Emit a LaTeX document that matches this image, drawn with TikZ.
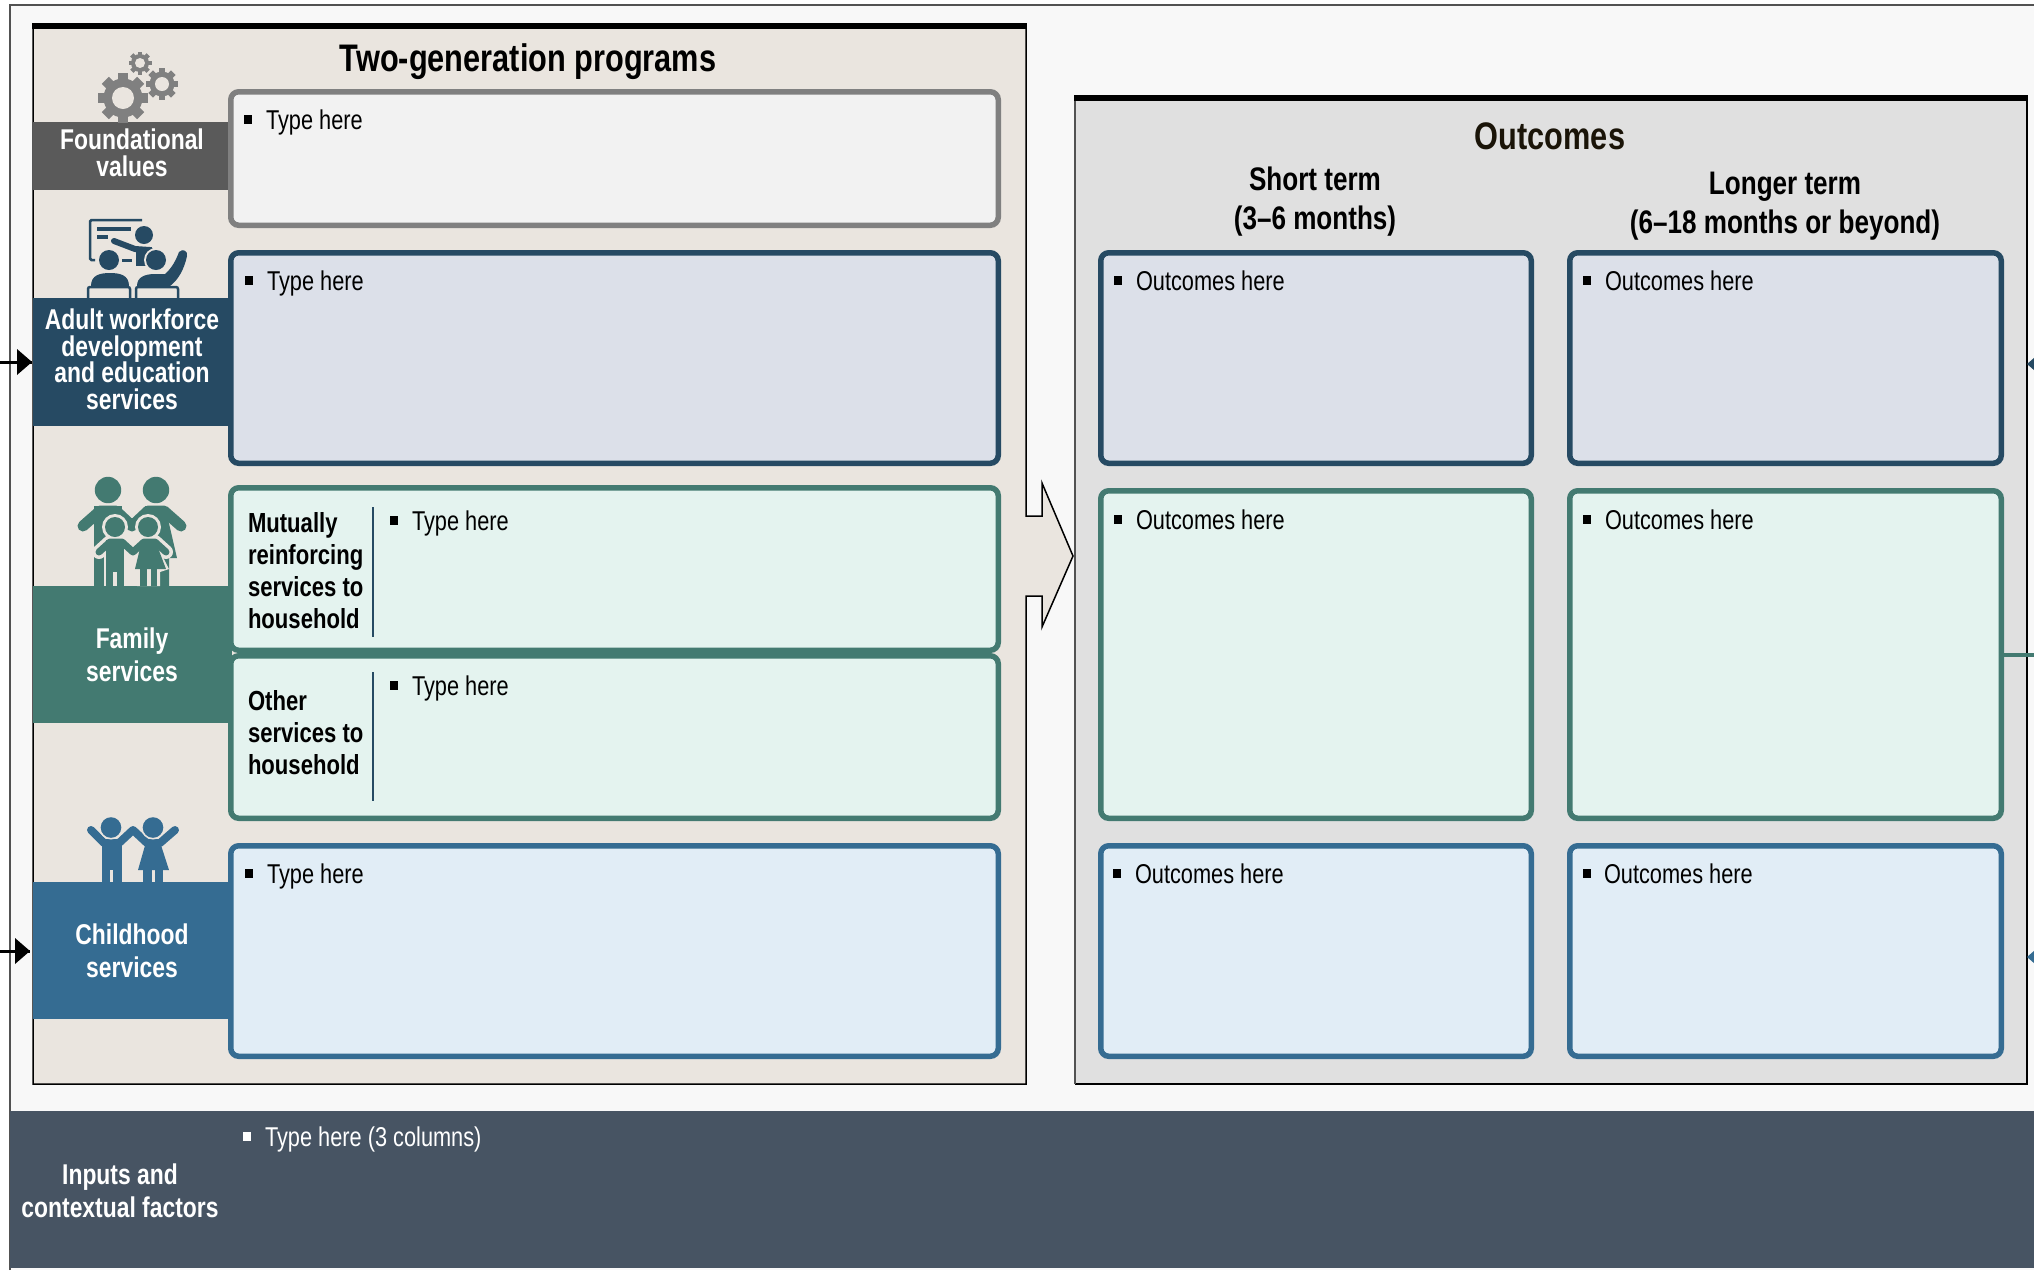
\documentclass[tikz,border=0pt]{standalone}
\usepackage{fontspec}
\setmainfont[FakeStretch=0.80,BoldFont={Liberation Sans Bold}]{Liberation Sans}
\definecolor{pagebg}{HTML}{F8F8F8}
\definecolor{panelL}{HTML}{EAE5DF}
\definecolor{panelR}{HTML}{E0E0E0}
\definecolor{cGray}{HTML}{808080}
\definecolor{cGrayD}{HTML}{5A5A5A}
\definecolor{cNavy}{HTML}{264A63}
\definecolor{cTeal}{HTML}{437A71}
\definecolor{cBlue}{HTML}{356C92}
\definecolor{fGray}{HTML}{F2F2F2}
\definecolor{fNavy}{HTML}{DCE0E9}
\definecolor{fTeal}{HTML}{E4F3EF}
\definecolor{fBlue}{HTML}{E1EDF6}
\definecolor{cBar}{HTML}{475463}
\definecolor{cOut}{HTML}{1A1408}
\newcommand{\fsR}{\fontsize{27.2}{32}\selectfont}
\newcommand{\fsB}{\fontsize{28.6}{32}\selectfont\bfseries}
% box: name, x0,y0,x1,y1, border, fill
\newcommand{\rbox}[7]{%
  \pgfmathsetmacro{\cxx}{(#2+#4)/2}\pgfmathsetmacro{\cyy}{(#3+#5)/2}%
  \pgfmathsetmacro{\ww}{#4-#2-5.5}\pgfmathsetmacro{\hh}{#5-#3-5.5}%
  \node[cardbox,draw=#6,fill=#7,minimum width=\ww pt,minimum height=\hh pt] (#1) at (\cxx,\cyy) {};}
\newcommand{\band}[6]{%
  \pgfmathsetmacro{\cxx}{(#2+#4)/2}\pgfmathsetmacro{\cyy}{(#3+#5)/2}%
  \pgfmathsetmacro{\ww}{#4-#2}\pgfmathsetmacro{\hh}{#5-#3}%
  \node[bandbox,fill=#6,minimum width=\ww pt,minimum height=\hh pt] (#1) at (\cxx,\cyy) {};}
% bullet item: name, bullet x, text x, baseline y, colour, text
\newcommand{\bul}[6]{%
  \fill[#5] (#2,#4-14) rectangle ++(8,9);
  \node[plain,text=#5,anchor=base west,font=\fsR] (#1) at (#3,#4) {#6};}
\newcommand{\gear}[4]{% x y r hole
  \foreach \a in {0,45,...,359}{
    \fill[cGray,rotate around={\a:(#1,#2)}] (#1-#3*0.2,#2-#3) rectangle (#1+#3*0.2,#2);}
  \fill[cGray] (#1,#2) circle (#3*0.78);
  \fill[panelL] (#1,#2) circle (#4);}
\tikzset{
  x=1pt,y=-1pt,
  cardbox/.style={rectangle,rounded corners=8pt,line width=5.5pt,inner sep=0pt,outer sep=0pt},
  bandbox/.style={rectangle,inner sep=0pt,outer sep=0pt,draw=none},
  plain/.style={inner sep=0pt,outer sep=0pt},
  heading/.style={plain,anchor=base,font=\fsB,align=center},
  bigtitle/.style={plain,anchor=base,font=\fontsize{38.4}{42}\selectfont\bfseries},
  subtitle/.style={plain,anchor=base,font=\fontsize{32.6}{38}\selectfont\bfseries},
  leftsub/.style={plain,anchor=base west,font=\fontsize{27.6}{32}\selectfont\bfseries},
}
\begin{document}
\begin{tikzpicture}
\useasboundingbox (0,0) rectangle (2034,1270);
\clip (0,0) rectangle (2034,1270);
\fill[white] (0,0) rectangle (2034,1270);
\fill[pagebg] (10,5) rectangle (2034,1270);
\draw[line width=2pt,color=black!68] (10,1270) -- (10,5) -- (2034,5);
% inputs bar
\node[bandbox,fill=cBar,minimum width=2024pt,minimum height=157pt] (inputsbar) at (1022,1189.5) {};
% left panel
\fill[panelL] (33,26) -- (1026,26) -- (1026,516) -- (1042,516) -- (1042,483) -- (1073,556) -- (1042,627) -- (1042,596) -- (1026,596) -- (1026,1084) -- (33,1084) -- cycle;
\draw[line width=1.5pt,black,line join=miter] (33,26) -- (33,1084) -- (1026,1084) -- (1026,596) -- (1042,596) -- (1042,627) -- (1073,556) -- (1042,483) -- (1042,516) -- (1026,516) -- (1026,26);
\draw[line width=5.5pt,black] (32,26) -- (1027,26);
% right panel
\fill[panelR] (1075,98) rectangle (2027,1084);
\draw[line width=1.5pt,black] (2027,98) -- (2027,1084) -- (1075,1084);
\draw[line width=2.5pt,black!68] (1075,98) -- (1075,1084);
\draw[line width=5.5pt,black] (1074,98) -- (2028,98);
% bands
\band{bFound}{33}{122}{230}{190}{cGrayD}
\band{bAdult}{33}{298}{232}{426}{cNavy}
\band{bFamily}{33}{586}{232}{723}{cTeal}
\band{bChild}{33}{882}{232}{1019}{cBlue}
% left boxes
\rbox{boxFound}{228}{89}{1001}{228}{cGray}{fGray}
\rbox{boxAdult}{228}{250}{1001}{466}{cNavy}{fNavy}
\rbox{boxMutual}{228}{485}{1001}{653}{cTeal}{fTeal}
\rbox{boxOther}{228}{653}{1001}{821}{cTeal}{fTeal}
\rbox{boxChild}{228}{843}{1001}{1059}{cBlue}{fBlue}
% right boxes
\rbox{oA1}{1098}{250}{1534}{466}{cNavy}{fNavy}
\rbox{oA2}{1567}{250}{2004}{466}{cNavy}{fNavy}
\rbox{oF1}{1098}{488}{1534}{821}{cTeal}{fTeal}
\rbox{oF2}{1567}{488}{2004}{821}{cTeal}{fTeal}
\rbox{oC1}{1098}{843}{1534}{1059}{cBlue}{fBlue}
\rbox{oC2}{1567}{843}{2004}{1059}{cBlue}{fBlue}
% dividers
\draw[line width=1.5pt,cNavy] (373,507) -- (373,637);
\draw[line width=1.5pt,cNavy] (373,672) -- (373,801);
% titles
\node[bigtitle] (tTwo) at (528,71) {Two-generation programs};
\node[bigtitle,text=cOut] (tOut) at (1550,149) {Outcomes};
\node[subtitle] (tS1) at (1315,190) {Short term};
\node[subtitle] (tS2) at (1315,229) {(3–6 months)};
\node[subtitle] (tL1) at (1785,194) {Longer term};
\node[subtitle] (tL2) at (1785,233) {(6–18 months or beyond)};
% band labels
\begin{scope}[every node/.style={heading,text=white}]
\node (lF1) at (132,149) {Foundational};
\node (lF2) at (132,176) {values};
\node (lA1) at (132,329) {Adult workforce};
\node (lA2) at (132,356) {development};
\node (lA3) at (132,382) {and education};
\node (lA4) at (132,409) {services};
\node (lFa1) at (132,648) {Family};
\node (lFa2) at (132,681) {services};
\node (lC1) at (132,944) {Childhood};
\node (lC2) at (132,977) {services};
\node (lI1) at (120,1184) {Inputs and};
\node (lI2) at (120,1217) {contextual factors};
\end{scope}
% sub-labels
\node[leftsub] (m1) at (248,532) {Mutually};
\node[leftsub] (m2) at (248,564) {reinforcing};
\node[leftsub] (m3) at (248,596) {services to};
\node[leftsub] (m4) at (248,628) {household};
\node[leftsub] (o1) at (248,710) {Other};
\node[leftsub] (o2) at (248,742) {services to};
\node[leftsub] (o3) at (248,774) {household};
% bullets
\bul{t1}{244}{266}{129}{black}{Type here}
\bul{t2}{245}{267}{290}{black}{Type here}
\bul{t3}{390}{412}{530}{black}{Type here}
\bul{t4}{390}{412}{695}{black}{Type here}
\bul{t5}{245}{267}{883}{black}{Type here}
\bul{o1a}{1114}{1136}{290}{black}{Outcomes here}
\bul{o1b}{1583}{1605}{290}{black}{Outcomes here}
\bul{o2a}{1114}{1136}{529}{black}{Outcomes here}
\bul{o2b}{1583}{1605}{529}{black}{Outcomes here}
\bul{o3a}{1113}{1135}{883}{black}{Outcomes here}
\bul{o3b}{1583}{1604}{883}{black}{Outcomes here}
\bul{t6}{243}{265}{1146}{white}{Type here (3 columns)}
% connectors
\coordinate (inA) at (-5,362);
\coordinate (inC) at (-5,951);
\coordinate (edgeA) at (2040,364);
\coordinate (edgeF) at (2040,655);
\coordinate (edgeC) at (2040,957);
\coordinate (tipA) at (32,362);
\coordinate (tipC) at (30,951);
\coordinate (tipRA) at (2027,364);
\coordinate (tipRC) at (2027,957);
\draw[line width=3pt] (inA) -- (tipA);
\fill (tipA) -- ++(-15,-13) -- ++(0,26) -- cycle;
\draw[line width=3pt] (inC) -- (tipC);
\fill (tipC) -- ++(-15,-13) -- ++(0,26) -- cycle;
\draw[line width=4pt,cTeal] (oF2.east |- edgeF) -- (edgeF);
\fill[cNavy] (tipRA) -- ++(15,-13) -- ++(0,26) -- cycle;
\fill[cBlue] (tipRC) -- ++(15,-13) -- ++(0,26) -- cycle;
% gears
\gear{123}{98}{25}{11}
\gear{162}{84}{16}{7}
\gear{140}{63}{11.5}{5}
% adult icon
\begin{scope}[cNavy]
\draw[line width=2.5pt,rounded corners=1.5pt] (142,220) -- (90,220) -- (90,260) -- (95,260);
\fill (97,227) rectangle (131,231);
\fill (97,235) rectangle (108,239);
\fill (144,235) circle (9);
\draw[line width=6pt,line cap=round] (114,241) -- (135,249) -- (150,250);
\fill (136,247) -- (152,247) -- (152,266) -- (136,266) -- cycle;
\fill (122,259) rectangle (132,262);
\fill[panelL] (156,260) circle (12);
\fill[panelL] (109,260) circle (12);
\fill (109,260) circle (10);
\fill (156,260) circle (10);
\fill (91,286) .. controls (91,275) and (100,273) .. (110,273) .. controls (120,273) and (129,275) .. (129,286) -- cycle;
\fill (137,286) .. controls (137,277) and (145,274) .. (155,274) -- (165,274) .. controls (172,268) and (176,260) .. (179,252) .. controls (183,248) and (188,251) .. (187,256) .. controls (184,270) and (178,280) .. (170,286) -- cycle;
\draw[line width=2.5pt,rounded corners=2pt] (88,298) -- (88,287) -- (130,287) -- (130,298);
\draw[line width=2.5pt,rounded corners=2pt] (136,298) -- (136,287) -- (178,287) -- (178,298);
\end{scope}
% family icon
\begin{scope}[cTeal]
\fill (108,490) circle (13.2);
\fill (156,490) circle (13.2);
\draw[line width=11pt,line cap=round,line join=round] (83,526) -- (100,511) -- (116,511) -- (132,526) -- (148,511) -- (164,511) -- (181,526);
\fill (94,506) rectangle (122,586);
\fill (145,506) -- (165,506) -- (177,558) -- (169,558) -- (169,586) -- (145,586) -- cycle;
\fill[panelL] (122,540) rectangle (145,586);
% kids
\fill[panelL] (115,527) circle (13);
\fill[panelL] (148,527) circle (13);
\draw[panelL,line width=14pt,line cap=round,line join=round] (99,552) -- (110,542) -- (122,542) -- (133,552) -- (144,542) -- (155,542) -- (166,552);
\fill[panelL] (103.5,545) rectangle (128,586);
\fill[panelL] (142,545) -- (157,545) -- (169,569) -- (160,572) -- (160,586) -- (137,586) -- (137,572) -- (132,569) -- cycle;
\fill (115,527) circle (10);
\fill (148,527) circle (10);
\draw[line width=7pt,line cap=round,line join=round] (99,552) -- (110,542) -- (122,542) -- (133,552) -- (144,542) -- (155,542) -- (166,552);
\fill (106,540) rectangle (124,572);
\fill (106,570) rectangle (113,586);
\fill (117,570) rectangle (124,586);
\fill (142,540) -- (155,540) -- (166,569) -- (135,569) -- cycle;
\fill (140,568) rectangle (147,586);
\fill (151,568) rectangle (157,586);
\end{scope}
% child icon
\begin{scope}[cBlue]
\draw[line width=8pt,line cap=round,line join=round] (91,830) -- (104,843) -- (119,843) -- (133,830) -- (147,843) -- (160,843) -- (175,830);
\fill[panelL] (111,827.5) circle (12);
\fill[panelL] (153,827.5) circle (12);
\fill (111,827.5) circle (10.3);
\fill (153,827.5) circle (10.3);
\fill (102,842) rectangle (122,870);
\fill (102,868) rectangle (110,882);
\fill (113,868) rectangle (122,882);
\fill (146,842) -- (160,842) -- (169,870) -- (138,870) -- cycle;
\fill (143,868) rectangle (152,882);
\fill (155,868) rectangle (163,882);
\end{scope}
\end{tikzpicture}
\end{document}
